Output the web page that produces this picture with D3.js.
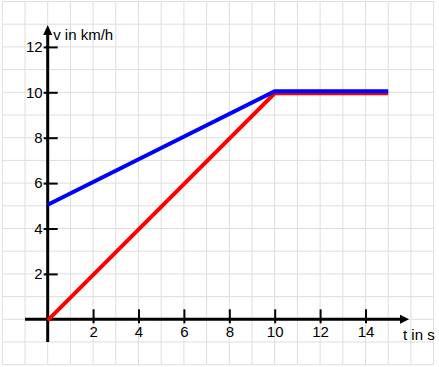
<!DOCTYPE html>
<html>
<head>
<meta charset="utf-8">
<script src="https://cdn.jsdelivr.net/npm/d3@7"></script>
<style>
  html, body { margin: 0; padding: 0; background: #fff; }
  svg { display: block; }
  text { font-family: "Liberation Sans", Arial, sans-serif; }
</style>
</head>
<body>
<svg id="chart" width="439" height="367"></svg>
<script>
// ---- data ----
const redT = [0, 10, 15];
const redV = [0, 10, 10];
const blueT = [0, 10, 15];
const blueV = [5, 10, 10];
const xTickValues = [2, 4, 6, 8, 10, 12, 14];
const yTickValues = [2, 4, 6, 8, 10, 12];
const xTitle = "t in s";
const yTitle = "v in km/h";

const svg = d3.select("#chart");
const unit = 22.7;
const x = d3.scaleLinear().domain([0, 1]).range([47.7, 47.7 + unit]);
const y = d3.scaleLinear().domain([0, 1]).range([319.3, 319.3 - unit]);

// grid
const grid = svg.append("g").attr("stroke", "#dedede").attr("stroke-width", 1);
d3.range(-2, 18).forEach(v => {
  grid.append("line").attr("x1", x(v)).attr("x2", x(v)).attr("y1", y(14)).attr("y2", y(-2));
});
d3.range(-2, 15).forEach(v => {
  grid.append("line").attr("y1", y(v)).attr("y2", y(v)).attr("x1", x(-2)).attr("x2", x(17));
});

// axes lines with arrows
const ax = svg.append("g");
ax.append("line").attr("x1", x(-1)).attr("x2", 402).attr("y1", y(0)).attr("y2", y(0))
  .attr("stroke", "#000").attr("stroke-width", 3);
ax.append("line").attr("x1", x(0)).attr("x2", x(0)).attr("y1", y(-1)).attr("y2", 31)
  .attr("stroke", "#000").attr("stroke-width", 3);
ax.append("path").attr("d", `M409,${y(0)} L400,${y(0) - 4.5} L400,${y(0) + 4.5} Z`).attr("fill", "#000");
ax.append("path").attr("d", `M${x(0)},25 L${x(0) - 4.5},35 L${x(0) + 4.5},35 Z`).attr("fill", "#000");

// ticks via d3 axes
const xAxis = d3.axisBottom(x).tickValues(xTickValues).tickSize(-10).tickSizeOuter(0).tickPadding(7.5).tickFormat(d3.format("d"));
const gx = svg.append("g").attr("transform", `translate(0,${y(0)})`).call(xAxis);
gx.select(".domain").remove();
gx.selectAll(".tick line").attr("y1", 4).attr("y2", -10).attr("stroke", "#000").attr("stroke-width", 2);
gx.selectAll(".tick text").attr("font-size", 15).attr("fill", "#000")
  .style("font-family", '"Liberation Sans", Arial, sans-serif');

const yAxis = d3.axisLeft(y).tickValues(yTickValues).tickSize(-10).tickSizeOuter(0).tickPadding(5).tickFormat(d3.format("d"));
const gy = svg.append("g").attr("transform", `translate(${x(0)},0)`).call(yAxis);
gy.select(".domain").remove();
gy.selectAll(".tick line").attr("x1", -4).attr("x2", 10).attr("stroke", "#000").attr("stroke-width", 2);
gy.selectAll(".tick text").attr("font-size", 15).attr("fill", "#000")
  .style("font-family", '"Liberation Sans", Arial, sans-serif');

// titles
svg.append("text").attr("x", x(0) + 5.5).attr("y", 39.5).attr("font-size", 15).attr("fill", "#000").text(yTitle);
svg.append("text").attr("x", 403).attr("y", 340).attr("font-size", 15).attr("fill", "#000").text(xTitle);

// series
const line = d3.line().x(d => x(d[0])).y(d => y(d[1]));
svg.append("path").datum(d3.zip(redT, redV)).attr("d", line)
  .attr("transform", "translate(0,1)")
  .attr("fill", "none").attr("stroke", "#ff0000").attr("stroke-width", 4).attr("stroke-linejoin", "miter");
svg.append("path").datum(d3.zip(blueT, blueV)).attr("d", line)
  .attr("transform", "translate(0,-1)")
  .attr("fill", "none").attr("stroke", "#0000ff").attr("stroke-width", 4).attr("stroke-linejoin", "miter");
</script>
</body>
</html>
